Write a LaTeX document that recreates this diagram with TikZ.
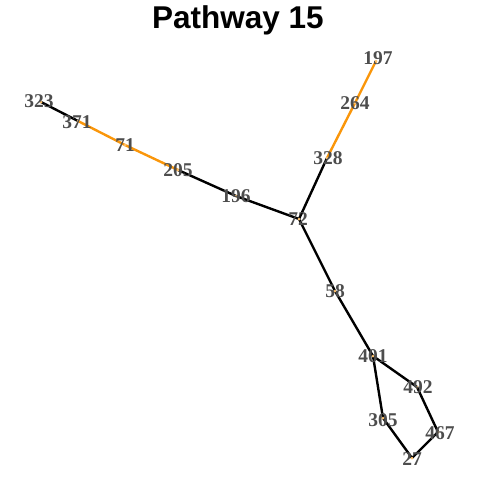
\documentclass[tikz,border=0pt]{standalone}
\usepackage{fontspec}
\setmainfont{Liberation Serif}
\newfontfamily\titlefont{Liberation Sans}
\definecolor{edgeorange}{RGB}{250,150,10}
\definecolor{labelgray}{RGB}{77,77,77}
\begin{document}
\begin{tikzpicture}[x=1pt,y=-1pt,
  vtx/.style={circle,inner sep=0pt,minimum size=0pt},
  blk/.style={draw=black,line width=2.4pt},
  org/.style={draw=edgeorange,line width=2.4pt},
  lbl/.style={text=labelgray,font=\fontsize{19.5}{21}\selectfont\bfseries,inner sep=0pt},
  dot/.style={fill=edgeorange!60,draw=none}]
\useasboundingbox (0,0) rectangle (480,480);
\node[font=\titlefont\fontsize{31.5}{33}\selectfont\bfseries] (title) at (238,20) {Pathway 15};
\coordinate (n323) at (41,102);
\coordinate (n371) at (78,121);
\coordinate (n71) at (125,145);
\coordinate (n205) at (178,170);
\coordinate (n196) at (236,196);
\coordinate (n72) at (299,219);
\coordinate (n328) at (327,158);
\coordinate (n264) at (355,103);
\coordinate (n197) at (376,61);
\coordinate (n58) at (335,291);
\coordinate (n401) at (373,356);
\coordinate (n492) at (417,387);
\coordinate (n305) at (383,418);
\coordinate (n467) at (438,432);
\coordinate (n27) at (412,458);
\draw[blk] (n323) -- (n371);
\draw[org] (n371) -- (n71);
\draw[org] (n71) -- (n205);
\draw[blk] (n205) -- (n196);
\draw[blk] (n196) -- (n72);
\draw[blk] (n72) -- (n328);
\draw[org] (n328) -- (n264);
\draw[org] (n264) -- (n197);
\draw[blk] (n72) -- (n58);
\draw[blk] (n58) -- (n401);
\draw[blk] (n401) -- (n492);
\draw[blk] (n401) -- (n305);
\draw[blk] (n305) -- (n27);
\draw[blk] (n27) -- (n467);
\draw[blk] (n467) -- (n492);
\foreach \n in {323,371,71,205,196,72,328,264,197,58,401,492,305,467,27}
  \fill[dot] (n\n) circle (1.5);
\node[lbl] (l323) at (39,101) {323};
\node[lbl] (l371) at (77,122) {371};
\node[lbl] (l71) at (125,145) {71};
\node[lbl] (l205) at (178,170) {205};
\node[lbl] (l196) at (236,196) {196};
\node[lbl] (l72) at (298,219) {72};
\node[lbl] (l328) at (328,158) {328};
\node[lbl] (l264) at (355,103) {264};
\node[lbl] (l197) at (378,58) {197};
\node[lbl] (l58) at (335,291) {58};
\node[lbl] (l401) at (373,356) {401};
\node[lbl] (l492) at (418,387) {492};
\node[lbl] (l305) at (383,420) {305};
\node[lbl] (l467) at (440,433) {467};
\node[lbl] (l27) at (412,459) {27};
\end{tikzpicture}
\end{document}
